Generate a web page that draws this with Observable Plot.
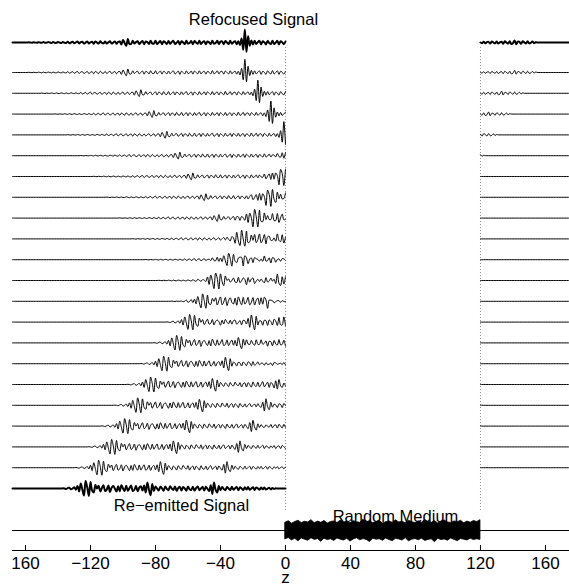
<!DOCTYPE html>
<html><head><meta charset="utf-8">
<script src="https://cdn.jsdelivr.net/npm/d3@7"></script>
<script src="https://cdn.jsdelivr.net/npm/@observablehq/plot@0.6"></script>
<style>body{margin:0;background:#fff}</style>
</head><body><div id="chart"></div>
<script>
// ---- data ----
const xTicks = [-160, -120, -80, -40, 0, 40, 80, 120, 160];
const xTickLabels = ["160", "\u2212120", "\u221280", "\u221240", "0", "40", "80", "120", "160"];
const timeSteps = d3.range(0, 21);          // 21 snapshots, bottom (0) to top (20)
const shiftPerStep = 8;                      // z travelled between snapshots
const codaStartZ = -138;                     // left end of the re-emitted signal at step 0
const mediumZ = [0, 120];
// re-emitted coda, 1 sample per unit of z (left end first)
const coda = [0,.01,0,-.02,.02,.04,-.04,0,.06,-.06,
  .12,-.14,.24,-.05,-.34,.36,.06,-.36,.31,-.1,-.19,.17,
  0,.13,-.14,.02,.16,-.12,-.05,.14,-.16,.04,.12,0,-.14,.11,-.13,.16,0,-.12,.13,-.11,.02,.14,-.12,-.06,.12,-.13,.04,.11,-.1,
  .14,-.19,.29,-.06,-.32,.22,-.12,.1,
  0,-.1,.08,.01,-.11,.1,-.02,-.08,.11,0,-.07,.1,-.11,.02,.08,-.1,.07,0,-.11,.1,-.04,-.07,.08,-.1,.02,.1,-.08,0,.07,-.1,.08,-.02,
  -.12,.16,-.26,.29,-.06,-.19,.12,-.08,
  .07,-.02,-.08,.07,0,-.07,.08,-.06,.01,.07,-.08,.06,0,-.07,.06,-.05,.07,-.06,0,.06,-.07,.05,.01,-.06,.05,-.04,.05,-.05,0,.04,-.04,.02,-.02,.01,0,0,0,0,0,0];
// left-going wave coming back out of the medium (front first), incl. refocused pulse
const refl = [0,0,.01,0,-.01,.01,0,-.01,.015,0,-.015,.02,-.01,-.01,.02,0,-.02,.02,-.01,-.015,.025,0,-.02,.025,-.01,
  -.02,.04,-.03,0,.04,-.04,.01,.05,-.05,.02,.04,-.05,0,.05,-.05,.01,.04,-.06,.05,0,-.05,.06,-.02,-.04,.05,-.05,.01,.06,-.05,0,.05,
  -.06,.03,.05,-.09,.12,-.02,-.16,.17,-.07,-.07,.08,-.05,.02,
  .06,-.07,.01,.07,-.08,.05,.02,-.07,.08,-.04,-.05,.08,-.07,0,.07,-.08,.06,.01,-.07,.07,-.06,.02,.08,-.07,-.01,.07,-.09,.06,0,-.07,.08,-.05,-.02,.07,-.08,.07,0,-.06,.08,-.07,.02,.06,-.08,.05,.01,-.07,.09,-.06,-.02,.08,-.07,.04,.05,-.08,.07,0,-.07,.08,-.06,.02,.06,
  -.08,.06,-.12,.2,-.35,.63,-.45,.3,-.15,.1,-.09,.08,
  -.07,.02,.08,-.09,.06,.01,-.09,.08,-.02,-.07,.09,-.07,0,.08,-.09,.06,.01,-.08,.05];
// wave transmitted through the medium (front first)
const trans = [.02,-.03,.05,-.02,-.04,.06,-.05,.01,.06,-.06,.03,.04,-.08,.1,-.03,-.07,.06,-.05,0,.06,-.06,.04,.01,-.05,.05,-.04,0,.05,-.05,.03,.02,-.04,.04,-.03,0,.03,-.03,.02,0,-.02];
const transFrontAtStep16 = 122;
// random medium fluctuations over 0..120: upper and lower envelope
const noiseUpper = [.38,.45,.33,.41,.47,.36,.42,.39,.5,.35,.43,.37,.46,.34,.41,.44,.36,.48,.39,.42,.35,.45,.4,.37,.52,.38,.43,.36,.41,.46,.34,.4,.44,.37,.49,.39,.42,.35,.47,.4,.36,.44,.38,.51,.41,.37,.45,.34,.42,.48,.39,.36,.44,.4,.47,.35,.43,.38,.46,.41,.5];
const noiseLower = [-.42,-.36,-.47,-.4,-.52,-.38,-.44,-.49,-.37,-.45,-.41,-.54,-.39,-.46,-.42,-.5,-.38,-.44,-.48,-.4,-.53,-.43,-.37,-.47,-.41,-.45,-.55,-.39,-.44,-.42,-.49,-.38,-.46,-.51,-.4,-.43,-.48,-.37,-.52,-.44,-.41,-.47,-.39,-.5,-.45,-.42,-.56,-.4,-.46,-.43,-.49,-.38,-.45,-.51,-.41,-.44,-.48,-.39,-.46,-.42,-.45];

// ---- layout ----
const zMin = -168, zMax = 174.8;
const yMin = -2.98, yMax = 22.98;
const topRowY = 21.44, mediumRowY = -2.02;

function snapshot(j, base, tag) {
  const pts = [];
  const s = codaStartZ + shiftPerStep * j;
  for (let z = zMin; z <= 0; z++) {
    const v = (coda[z - s] ?? 0) + (refl[z + shiftPerStep * j] ?? 0);
    pts.push({z, y: base + v, seg: tag + "L"});
  }
  if (j > 0) {
    const F = transFrontAtStep16 + shiftPerStep * (j - 16);
    for (let z = mediumZ[1]; z <= 174; z++) {
      const v = trans[F - z] ?? 0;
      pts.push({z, y: base + v, seg: tag + "R"});
    }
    pts.push({z: zMax, y: base, seg: tag + "R"});
  }
  return pts;
}

const thin = [], thick = [];
for (const j of timeSteps) {
  const p = snapshot(j, j, "r" + j);
  (j === 0 ? thick : thin).push(...p);
}
thick.push(...snapshot(20, topRowY, "top"));

const mediumFlat = [
  {z: zMin, y: mediumRowY, seg: "a"}, {z: mediumZ[0], y: mediumRowY, seg: "a"},
  {z: mediumZ[1], y: mediumRowY, seg: "b"}, {z: zMax, y: mediumRowY, seg: "b"}
];
const mediumBand = noiseUpper.map((u, i) => ({
  z: mediumZ[0] + i * (mediumZ[1] - mediumZ[0]) / (noiseUpper.length - 1),
  hi: mediumRowY + u, lo: mediumRowY + noiseLower[i]
}));

const font = "'Liberation Sans', Arial, Helvetica, sans-serif";
const chart = Plot.plot({
  width: 569, height: 585,
  marginLeft: 12, marginRight: 0, marginTop: 10, marginBottom: 35,
  x: {domain: [zMin, zMax], axis: null},
  y: {domain: [yMin, yMax], axis: null},
  style: {fontFamily: font, fontSize: "17px", background: "#fff", overflow: "visible"},
  marks: [
    Plot.ruleX(mediumZ, {y1: -1.06, y2: 21.3, stroke: "#8a8a8a", strokeWidth: 1, strokeDasharray: "1,2"}),
    Plot.line(thin, {x: "z", y: "y", z: "seg", stroke: "#000", strokeWidth: 1, curve: "catmull-rom"}),
    Plot.line(thick, {x: "z", y: "y", z: "seg", stroke: "#000", strokeWidth: 2, curve: "catmull-rom"}),
    Plot.line(mediumFlat, {x: "z", y: "y", z: "seg", stroke: "#000", strokeWidth: 1}),
    Plot.areaY(mediumBand, {x: "z", y1: "lo", y2: "hi", fill: "#000", stroke: "#000", strokeWidth: 0.8}),
    Plot.ruleY([yMin], {stroke: "#000", strokeWidth: 1}),
    Plot.ruleX(xTicks, {x: d => d, y1: yMin, y2: yMin + 0.24, stroke: "#000", strokeWidth: 1}),
    Plot.text(xTicks, {x: d => d, y: yMin, dy: 18, text: (d, i) => xTickLabels[i], lineAnchor: "bottom", fill: "#000", fontSize: 17}),
    Plot.text(["z"], {x: 0, y: yMin, dy: 32, lineAnchor: "bottom", fill: "#000", fontSize: 17}),
    Plot.text(["Refocused Signal"], {x: -19.7, y: 22.26, lineAnchor: "bottom", fill: "#000", fontSize: 16.5}),
    Plot.text(["Re\u2212emitted Signal"], {x: -64, y: -1.06, lineAnchor: "bottom", fill: "#000", fontSize: 16.5}),
    Plot.text(["Random Medium"], {x: 67.7, y: -1.63, lineAnchor: "bottom", fill: "#000", fontSize: 16.5})
  ]
});
document.getElementById("chart").appendChild(chart);
</script></body></html>
